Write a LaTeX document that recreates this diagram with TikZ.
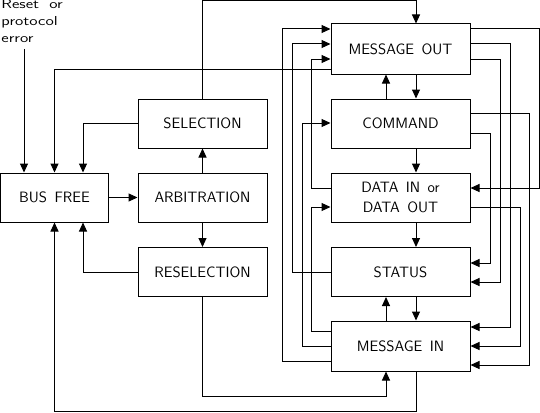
\documentclass[tikz,border=0pt]{standalone}
\usepackage{graphicx}
\usetikzlibrary{arrows.meta}
\begin{document}
\begin{tikzpicture}[x=1pt,y=-1pt, line width=1pt,
  arr/.style={-{Triangle[length=9pt,width=8pt]}},
  statebox/.style={draw, inner sep=0pt, minimum height=49pt, font=\sffamily\fontsize{15}{20}\selectfont, align=center},
  lbox/.style={statebox, minimum width=129pt},
  rbox/.style={statebox, minimum width=139pt},
  lbl/.style={anchor=base west, inner sep=0pt, font=\sffamily\fontsize{13}{14}\selectfont}]
\useasboundingbox (0,0) rectangle (540,412);

% label
\node[lbl] (r1) at (1,9) {\scalebox{1.3}[1]{Reset\hspace{0.6em}or}};
\node[lbl] (r2) at (1,25.5) {\scalebox{1.3}[1]{protocol}};
\node[lbl] (r3) at (1,42) {\scalebox{1.3}[1]{error}};
\coordinate (rs) at (24,49);

% left boxes
\node[statebox, minimum width=108pt] (bf) at (54.5,197.5) {BUS\hspace{0.5em}FREE};
\node[lbox] (sel) at (202.5,123.5) {SELECTION};
\node[lbox] (arb) at (202.5,197.5) {ARBITRATION};
\node[lbox] (res) at (202.5,272) {RESELECTION};

% right boxes
\node[rbox, minimum height=50pt] (mo) at (400.5,49) {MESSAGE\hspace{0.5em}OUT};
\node[rbox] (cmd) at (400.5,123.5) {COMMAND};
\node[rbox] (dat) at (400.5,197.5) {DATA\hspace{0.5em}IN\hspace{0.5em}or\\DATA\hspace{0.5em}OUT};
\node[rbox] (st) at (400.5,272) {STATUS};
\node[rbox, minimum height=50pt] (mi) at (400.5,346) {MESSAGE\hspace{0.5em}IN};

% left part connectors
\draw[arr] (rs) -- (rs |- bf.north);
\draw[arr] (sel.west) -| (bf.north -| 83,0);
\draw[arr] (mo.west |- 0,69) -| (bf.north);
\draw[arr] (sel.north) |- (416,1) -- (mo.north -| 416,0);
\draw[arr] (bf.east) -- (arb.west);
\draw[arr] (arb.north) -- (sel.south);
\draw[arr] (arb.south) -- (res.north);
\draw[arr] (res.west) -| (bf.south -| 83,0);
\draw[arr] (res.south) |- (386,396) -- (mi.south -| 386,0);
\draw[arr] (mi.south -| 416,0) |- (54.5,411) -- (bf.south);

% vertical between right boxes
\draw[arr] (cmd.north -| 386,0) -- (mo.south -| 386,0);
\draw[arr] (mo.south -| 416,0) -- (cmd.north -| 416,0);
\draw[arr] (cmd.south -| 416,0) -- (dat.north -| 416,0);
\draw[arr] (dat.south -| 416,0) -- (st.north -| 416,0);
\draw[arr] (st.south -| 416,0) -- (mi.north -| 416,0);
\draw[arr] (mi.north -| 386,0) -- (st.south -| 386,0);

% left lanes
\draw[arr] (mi.west |- 0,361) -| (282,29) -- (mo.west |- 0,29);
\draw[arr] (st.west |- 0,272) -| (292,44) -- (mo.west |- 0,44);
\draw[arr] (mi.west |- 0,346) -| (302,123) -- (cmd.west |- 0,123);
\draw[arr] (dat.west |- 0,188) -| (311,59) -- (mo.west |- 0,59);
\draw[arr] (mi.west |- 0,331) -| (311,207) -- (dat.west |- 0,207);

% right lanes
\draw[arr] (mo.east |- 0,29) -| (539,188) -- (dat.east |- 0,188);
\draw[arr] (mo.east |- 0,44) -| (510,327) -- (mi.east |- 0,327);
\draw[arr] (mo.east |- 0,59) -| (500,282) -- (st.east |- 0,282);
\draw[arr] (cmd.east |- 0,113) -| (529,365) -- (mi.east |- 0,365);
\draw[arr] (cmd.east |- 0,133) -| (490,263) -- (st.east |- 0,263);
\draw[arr] (dat.east |- 0,207) -| (520,346) -- (mi.east |- 0,346);
\end{tikzpicture}
\end{document}
